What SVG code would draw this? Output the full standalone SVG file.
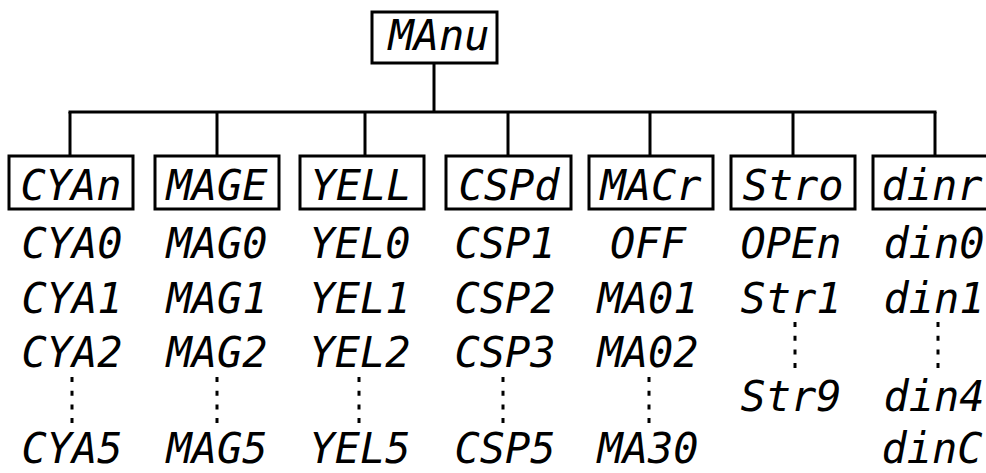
<svg xmlns="http://www.w3.org/2000/svg" width="986" height="473" viewBox="0 0 986 473">
<style>
.box{fill:#fff;stroke:#000;stroke-width:3}
.t{font-family:"DejaVu Sans Mono","Liberation Mono",monospace;font-style:oblique;font-size:42px;fill:#000;text-anchor:middle}
.c{stroke:#000;stroke-width:3;fill:none}
.d{stroke:#000;stroke-width:3;stroke-dasharray:5 8.7;fill:none}
</style>
<rect width="986" height="473" fill="#fff"/>
<g id="connectors">
<line class="c" x1="434" y1="62" x2="434" y2="112"/>
<line class="c" x1="68.5" y1="112" x2="936.5" y2="112"/>
<line class="c" x1="70" y1="112" x2="70" y2="155"/>
<line class="c" x1="217" y1="112" x2="217" y2="155"/>
<line class="c" x1="365" y1="112" x2="365" y2="155"/>
<line class="c" x1="508" y1="112" x2="508" y2="155"/>
<line class="c" x1="650" y1="112" x2="650" y2="155"/>
<line class="c" x1="793" y1="112" x2="793" y2="155"/>
<line class="c" x1="935" y1="112" x2="935" y2="155"/>
</g>
<g id="manu"><rect class="box" x="372" y="12" width="125" height="51"/><text class="t" x="439" y="50">MAnu</text></g>
<g id="cyan"><rect class="box" x="9" y="156" width="124" height="53"/><text class="t" x="71" y="200">CYAn</text></g>
<g id="mage"><rect class="box" x="155" y="156" width="124" height="53"/><text class="t" x="217" y="200">MAGE</text></g>
<g id="yell"><rect class="box" x="300" y="156" width="124" height="53"/><text class="t" x="361" y="200">YELL</text></g>
<g id="cspd"><rect class="box" x="446" y="156" width="125" height="53"/><text class="t" x="509" y="200">CSPd</text></g>
<g id="macr"><rect class="box" x="589" y="156" width="124" height="53"/><text class="t" x="651" y="200">MACr</text></g>
<g id="stro"><rect class="box" x="731" y="156" width="124" height="53"/><text class="t" x="793" y="200">Stro</text></g>
<g id="dinr"><rect class="box" x="873" y="156" width="125" height="53"/><text class="t" x="932" y="200">dinr</text></g>
<g id="cyan-items">
<text class="t" x="72" y="258">CYA0</text>
<text class="t" x="72" y="313">CYA1</text>
<text class="t" x="72" y="367">CYA2</text>
<text class="t" x="72" y="463">CYA5</text>
</g>
<g id="mage-items">
<text class="t" x="217" y="258">MAG0</text>
<text class="t" x="217" y="313">MAG1</text>
<text class="t" x="217" y="367">MAG2</text>
<text class="t" x="217" y="463">MAG5</text>
</g>
<g id="yell-items">
<text class="t" x="360" y="258">YEL0</text>
<text class="t" x="360" y="313">YEL1</text>
<text class="t" x="360" y="367">YEL2</text>
<text class="t" x="360" y="463">YEL5</text>
</g>
<g id="cspd-items">
<text class="t" x="505" y="258">CSP1</text>
<text class="t" x="505" y="313">CSP2</text>
<text class="t" x="505" y="367">CSP3</text>
<text class="t" x="505" y="463">CSP5</text>
</g>
<g id="macr-items">
<text class="t" x="648" y="258">OFF</text>
<text class="t" x="648" y="313">MA01</text>
<text class="t" x="648" y="367">MA02</text>
<text class="t" x="648" y="463">MA30</text>
</g>
<g id="stro-items">
<text class="t" x="791" y="258">OPEn</text>
<text class="t" x="791" y="313">Str1</text>
<text class="t" x="791" y="411">Str9</text>
</g>
<g id="dinr-items">
<text class="t" x="934" y="258">din0</text>
<text class="t" x="934" y="313">din1</text>
<text class="t" x="934" y="411">din4</text>
<text class="t" x="932" y="463">dinC</text>
</g>
<g id="ellipses">
<line class="d" x1="72" y1="377" x2="72" y2="423"/>
<line class="d" x1="217" y1="377" x2="217" y2="423"/>
<line class="d" x1="359" y1="377" x2="359" y2="423"/>
<line class="d" x1="503" y1="377" x2="503" y2="423"/>
<line class="d" x1="649" y1="377" x2="649" y2="423"/>
<line class="d" x1="795" y1="322" x2="795" y2="368"/>
<line class="d" x1="938" y1="322" x2="938" y2="368"/>
</g>
</svg>
